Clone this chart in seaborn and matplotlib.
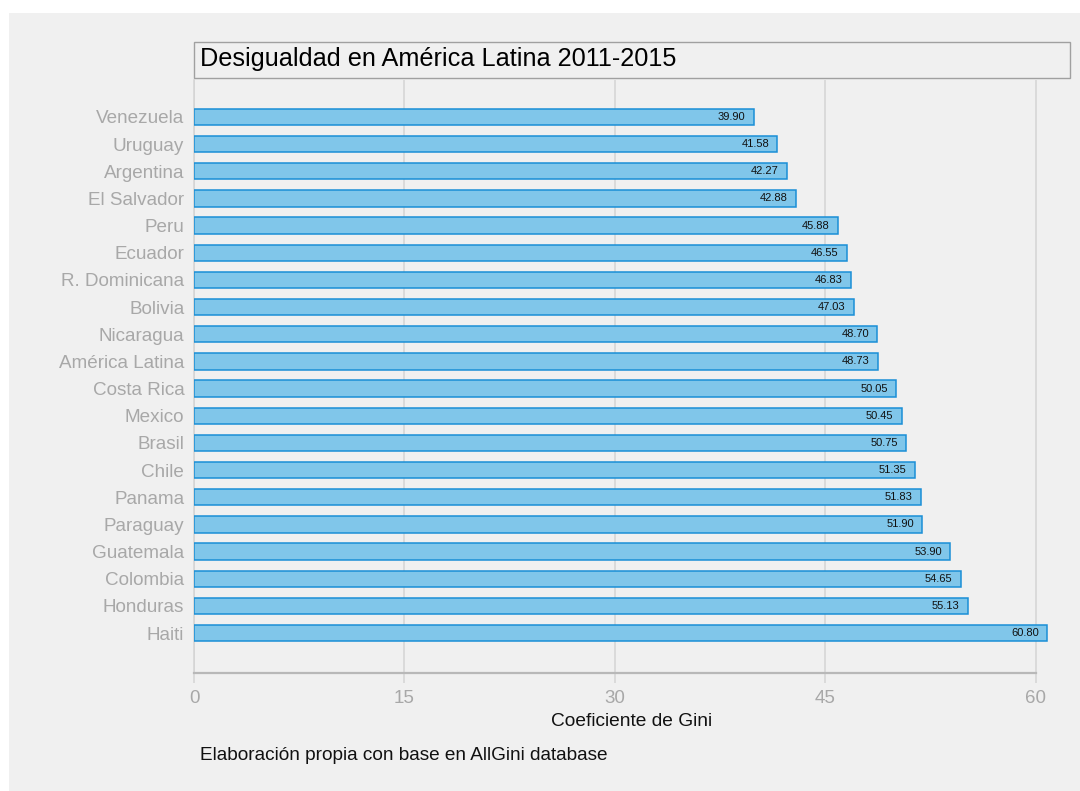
import pandas as pd
import matplotlib.pyplot as plt
import seaborn as sns
from matplotlib.patches import Rectangle

# Gini coefficients
paises = ["Venezuela", "Uruguay", "Argentina", "El Salvador", "Peru", "Ecuador",
          "R. Dominicana", "Bolivia", "Nicaragua", "América Latina", "Costa Rica",
          "Mexico", "Brasil", "Chile", "Panama", "Paraguay", "Guatemala",
          "Colombia", "Honduras", "Haiti"]
gini = [39.90, 41.58, 42.27, 42.88, 45.88, 46.55, 46.83, 47.03, 48.70, 48.73,
        50.05, 50.45, 50.75, 51.35, 51.83, 51.90, 53.90, 54.65, 55.13, 60.80]
x_ticks = [0, 15, 30, 45, 60]

titulo = "Desigualdad en América Latina 2011-2015"
x_label = "Coeficiente de Gini"
nota = "Elaboración propia con base en AllGini database"

df = pd.DataFrame({"pais": paises, "gini": gini})

sns.set_theme(style="white")
plt.rcParams["font.family"] = ["Liberation Sans", "DejaVu Sans"]

bg = "#f0f0f0"
fig = plt.figure(figsize=(10.8, 7.91), dpi=100)
fig.patch.set_facecolor("white")
# grey panel with a thin white margin top/left, as in the reference
fig.patches.append(Rectangle((9 / 1080, 0), 1, 1 - 13 / 791, transform=fig.transFigure,
                             facecolor=bg, edgecolor="none", zorder=-10))

ax = fig.add_axes([194 / 1080, 118 / 791, 876 / 1080, 593 / 791])
ax.set_facecolor(bg)

sns.barplot(data=df, x="gini", y="pais", orient="h", ax=ax, color="#80c6ea",
            saturation=1, width=0.6, edgecolor="#1a8fd6", linewidth=1.1, zorder=3)

labels = ax.bar_label(ax.containers[0], fmt="%.2f", padding=-6, fontsize=8, color="#111111")
for t in labels:
    t.set_ha("right")

ax.set_xlim(0, 62.43)
ax.set_ylim(20.47, -1.36)
ax.set_xticks(x_ticks)
ax.xaxis.grid(True, color="#d4d4d4", linewidth=1.1)
ax.set_axisbelow(True)

for s in ["top", "right"]:
    ax.spines[s].set_visible(False)
ax.spines["bottom"].set_color("#b8b8b8")
ax.spines["bottom"].set_linewidth(1.6)
ax.spines["bottom"].set_bounds(0, 60)
ax.spines["left"].set_color("#d4d4d4")
ax.spines["left"].set_linewidth(1.1)

ax.tick_params(axis="x", length=7.5, width=1.1, color="#d4d4d4", labelcolor="#a8a8a8",
               labelsize=13.5, pad=5, bottom=True)
ax.tick_params(axis="y", length=0, labelcolor="#a8a8a8", labelsize=13.6, pad=7)

ax.set_ylabel("")
ax.set_xlabel(x_label, fontsize=13.8, color="#111111", labelpad=4)

# boxed title
fig.patches.append(Rectangle((194 / 1080, 1 - 78 / 791), 876 / 1080, 36 / 791,
                             transform=fig.transFigure, facecolor=bg,
                             edgecolor="#a0a0a0", linewidth=1))
fig.text(200 / 1080, 1 - 59 / 791, titulo, fontsize=18.2, color="black",
         ha="left", va="center")

fig.text(200 / 1080, 1 - 755 / 791, nota, fontsize=13.7, color="#111111",
         ha="left", va="center")

plt.savefig("out.png", dpi=100, facecolor=fig.get_facecolor())
